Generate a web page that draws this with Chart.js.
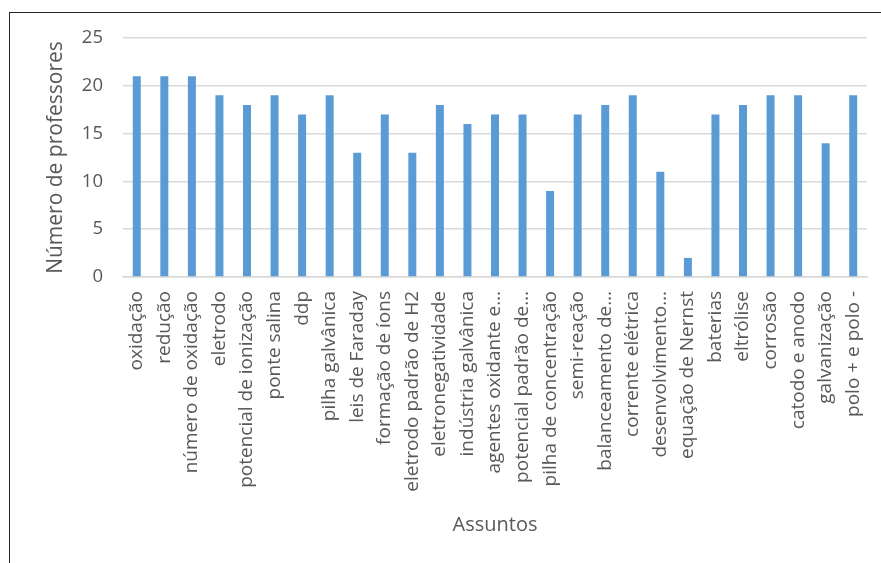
<!DOCTYPE html>
<html>
<head>
<meta charset="utf-8">
<script src="https://cdn.jsdelivr.net/npm/chart.js@4"></script>
<style>
  html, body { margin: 0; padding: 0; background: #fff; }
  #wrap { position: relative; width: 881px; height: 563px; overflow: hidden; }
  #frame { position: absolute; left: 9px; top: 12px; width: 900px; height: 600px; border-left: 1px solid #262626; border-top: 1px solid #262626; box-sizing: border-box; }
  canvas { position: absolute; left: 0; top: 0; }
</style>
</head>
<body>
<div id="wrap">
  <div id="frame"></div>
  <canvas id="c" width="881" height="563"></canvas>
</div>
<script>
const categories = [
  "oxidação", "redução", "número de oxidação", "eletrodo", "potencial de ionização",
  "ponte salina", "ddp", "pilha galvânica", "leis de Faraday", "formação de íons",
  "eletrodo padrão de H2", "eletronegatividade", "indústria galvânica", "agentes oxidante e…",
  "potencial padrão de…", "pilha de concentração", "semi-reação", "balanceamento de…",
  "corrente elétrica", "desenvolvimento…", "equação de Nernst", "baterias", "eltrólise",
  "corrosão", "catodo e anodo", "galvanização", "polo + e polo -"
];
const professores = [21, 21, 21, 19, 18, 19, 17, 19, 13, 17, 13, 18, 16, 17, 17, 9, 17, 18, 19, 11, 2, 17, 18, 19, 19, 14, 19];
const yTicks = [0, 5, 10, 15, 20, 25];
const yTitle = "Número de professores";
const xTitle = "Assuntos";

new Chart(document.getElementById('c'), {
  type: 'bar',
  data: {
    labels: categories,
    datasets: [{
      data: professores,
      backgroundColor: '#5b9bd5',
      borderWidth: 0,
      barPercentage: 0.58,
      categoryPercentage: 0.5
    }]
  },
  options: {
    responsive: false,
    animation: false,
    layout: { padding: { top: 38, right: 14, bottom: 26, left: 20 } },
    plugins: { legend: { display: false }, tooltip: { enabled: false } },
    scales: {
      x: {
        grid: { display: false, drawTicks: false },
        border: { display: true, color: '#d9d9d9', width: 1.5 },
        ticks: {
          minRotation: 90, maxRotation: 90, autoSkip: false, padding: 14,
          color: '#595959', font: { family: 'Open Sans', size: 19 }
        },
        title: {
          display: true, text: xTitle, color: '#595959',
          font: { family: 'Open Sans', size: 20 }, padding: { top: 4, bottom: 0 }
        },
        afterFit: (s) => { s.height = 260; s.paddingLeft = 0; s.paddingRight = 0; }
      },
      y: {
        min: 0, max: 25,
        afterBuildTicks: (s) => { s.ticks = yTicks.map(v => ({ value: v })); },
        grid: { color: '#d9d9d9', lineWidth: 1.5, drawTicks: false },
        border: { display: false },
        ticks: { padding: 20, color: '#595959', font: { family: 'Open Sans', size: 18.5 } },
        title: {
          display: true, text: yTitle, color: '#595959',
          font: { family: 'Open Sans', size: 21 }, padding: { top: 23, bottom: 4 }
        },
        afterFit: (s) => { s.width = 103; s.paddingTop = 0; s.paddingBottom = 0; }
      }
    }
  }
});
</script>
</body>
</html>
